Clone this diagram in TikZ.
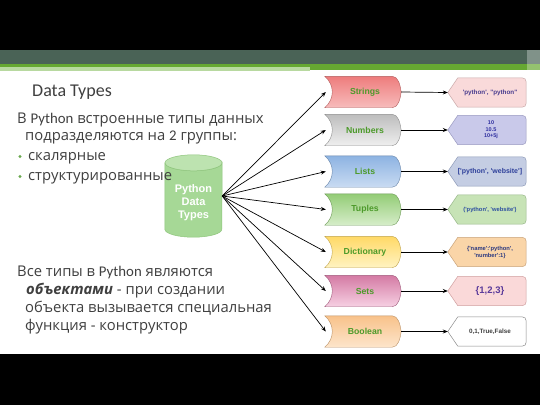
\documentclass[tikz,border=0pt]{standalone}
\usepackage{fontspec}
\setmainfont{Open Sans}
\newfontfamily\calfont{Carlito}
\newfontfamily\libfont{Liberation Sans}
\usetikzlibrary{arrows.meta,calc}
\definecolor{bardark}{HTML}{4A6356}
\definecolor{bargreen}{HTML}{66A832}
\definecolor{barpale}{HTML}{B8D9A0}
\definecolor{txt}{HTML}{404040}
\definecolor{bul}{HTML}{6AA84F}
\definecolor{catgreen}{HTML}{4C9A2A}
\definecolor{cylbody}{HTML}{A6D896}
\definecolor{cylend}{HTML}{BDE3B0}
\definecolor{cylborder}{HTML}{8EC57C}
% category colours
\definecolor{strT}{HTML}{EE7C7C}\definecolor{strB}{HTML}{F7BCBC}
\definecolor{numT}{HTML}{BDBDBD}\definecolor{numB}{HTML}{EFEFEF}
\definecolor{lisT}{HTML}{8DB3E2}\definecolor{lisB}{HTML}{C9DBF2}
\definecolor{tupT}{HTML}{93CC76}\definecolor{tupB}{HTML}{D6EDC9}
\definecolor{dicT}{HTML}{FFD966}\definecolor{dicB}{HTML}{FFF3C2}
\definecolor{setT}{HTML}{D47AA4}\definecolor{setB}{HTML}{F6D0E2}
\definecolor{booT}{HTML}{F8C28A}\definecolor{booB}{HTML}{FDE5CB}
% value colours
\definecolor{vstr}{HTML}{F9DADA}\definecolor{vstrD}{HTML}{C9A9A9}
\definecolor{vnum}{HTML}{C9C9EA}\definecolor{vnumD}{HTML}{9A9AC0}
\definecolor{vlis}{HTML}{C4CDE3}\definecolor{vlisD}{HTML}{8E9BB8}
\definecolor{vtup}{HTML}{C7E3B6}\definecolor{vtupD}{HTML}{98B88A}
\definecolor{vdic}{HTML}{FAD5A8}\definecolor{vdicD}{HTML}{C9A37A}
\definecolor{vset}{HTML}{FAD9D9}\definecolor{vsetD}{HTML}{D0A0A0}
\definecolor{vboo}{HTML}{FFFFFF}\definecolor{vbooD}{HTML}{8A8A8A}
\definecolor{tstr}{HTML}{4A3D8F}
\definecolor{tnum}{HTML}{2F2FA0}
\definecolor{tlis}{HTML}{2D3F9A}
\definecolor{ttup}{HTML}{2D4FA0}
\definecolor{tdic}{HTML}{2D3A80}
\definecolor{tset}{HTML}{5B3B9B}
\definecolor{tboo}{HTML}{404040}
\newcommand\catpath[3]{%
  \path[top color=#2,bottom color=#3,draw=#2!75!black,line width=0.4pt]
    (#1.north west) -- ($(#1.north east)+(-9,0)$)
    .. controls ($(#1.north east)+(-3,0)$) and ($(#1.east)+(-1,-7)$) .. (#1.east)
    .. controls ($(#1.east)+(-1,7)$) and ($(#1.south east)+(-3,0)$) .. ($(#1.south east)+(-9,0)$)
    -- (#1.south west)
    .. controls ($(#1.west)+(10,7)$) and ($(#1.west)+(10,-7)$) .. (#1.north west) -- cycle;}
\newcommand\valpath[3]{%
  \path[fill=#2,draw=#3,line width=0.5pt]
    (#1.west) -- ($(#1.north west)+(10,0)$) -- ($(#1.north east)+(-9,0)$)
    .. controls (#1.north east) .. ($(#1.north east)+(0,9)$)
    -- ($(#1.south east)+(0,-9)$)
    .. controls (#1.south east) .. ($(#1.south east)+(-9,0)$)
    -- ($(#1.south west)+(10,0)$) -- cycle;}
\tikzset{
  catbox/.style={minimum width=76pt,minimum height=31pt,inner sep=0pt,
    text=catgreen,font=\libfont\bfseries\fontsize{8.7}{10}\selectfont},
  valbox/.style={minimum width=78pt,minimum height=29pt,inner sep=0pt,align=center,
    font=\libfont\bfseries\fontsize{6.3}{7.2}\selectfont},
  body/.style={anchor=base west,inner sep=0pt,text=txt,font=\fontsize{14.8}{17}\selectfont},
  bulletdot/.style={circle,fill=bul,inner sep=0pt,minimum size=3.3pt},
  conn/.style={-{Stealth[length=5pt,width=4pt]},line width=0.7pt,black},
}
\begin{document}
\begin{tikzpicture}[x=1pt,y=-1pt]
\useasboundingbox (0,0) rectangle (540,405);
\fill[white] (0,0) rectangle (540,405);
\fill[black] (0,0) rectangle (540,50);
\fill[black] (0,354) rectangle (540,405);
\fill[bardark] (0,50) rectangle (540,63.5);
\fill[bargreen] (0,63.5) rectangle (540,70);
\fill[barpale] (0,67) rectangle (310,70.5);
\fill[white,opacity=0.3] (527,50) rectangle (540,70);

% cylinder
\node[minimum width=57pt,minimum height=82pt,inner sep=0pt] (cyl) at (193.5,196) {};
\path[fill=cylbody,draw=cylborder,line width=0.5pt]
  (cyl.north west) ++(0,8) -- ($(cyl.south west)+(0,-8)$)
  arc[start angle=180,end angle=0,x radius=28.5,y radius=8]
  -- ($(cyl.north east)+(0,8)$)
  arc[start angle=0,end angle=180,x radius=28.5,y radius=8] -- cycle;
\path[fill=cylend,draw=cylborder,line width=0.5pt] ($(cyl.north)+(0,8)$) ellipse[x radius=28.5,y radius=8];
\node[text=white,align=center,font=\libfont\bfseries\fontsize{11}{13}\selectfont] (cyltext) at (193.5,203) {Python\\Data\\Types};

% left texts
\node[body,font=\calfont\fontsize{18}{22}\selectfont] (title) at (32,96.7) {Data Types};
\node[body] (l1) at (17,123.3) {В {\calfont Python} встроенные типы данных};
\node[body] (l2) at (25,140.5) {подразделяются на {\calfont 2} группы:};
\node[bulletdot] (bu1) at (20,156.5) {};
\node[body] (b1) at (28,160) {скалярные};
\node[bulletdot] (bu2) at (20,176.5) {};
\node[body] (b2) at (28,180) {структурированные};
\node[body] (m1) at (17,276.7) {Все типы в {\calfont Python} являются};
\node[body] (m2) at (26,294) {\textbf{\textit{объектами}} - при создании};
\node[body] (m3) at (25,312.2) {объекта вызывается специальная};
\node[body] (m4) at (25,330.5) {функция - конструктор};

% categories
\foreach \n/\y/\t/\T/\B in {cStr/92/Strings/strT/strB, cNum/130/Numbers/numT/numB,
  cLis/171.5/Lists/lisT/lisB, cTup/209.5/Tuples/tupT/tupB, cDic/252/Dictionary/dicT/dicB,
  cSet/291/Sets/setT/setB, cBoo/331.5/Boolean/booT/booB}{
  \node[catbox] (\n) at (363,\y) {};
  \catpath{\n}{\T}{\B}
  \node[catbox] (\n-t) at ($(\n)+(2,0)$) {\t};
}

% values
\node[valbox] (vStr) at (487,92.5) {};
\valpath{vStr}{vstr}{vstrD}
\node[valbox,text=tstr] (vStr-t) at ($(vStr)+(3,0)$) {'python', "python"};
\node[valbox] (vNum) at (487,130) {};
\valpath{vNum}{vnum}{vnumD}
\node[valbox,text=tnum,font=\libfont\bfseries\fontsize{5.5}{6.5}\selectfont] (vNum-t) at ($(vNum)+(4,0)$) {10\\10.5\\10+5j};
\node[valbox] (vLis) at (487,171.5) {};
\valpath{vLis}{vlis}{vlisD}
\node[valbox,text=tlis,font=\libfont\bfseries\fontsize{7}{8}\selectfont] (vLis-t) at ($(vLis)+(3,0)$) {['python', 'website']};
\node[valbox] (vTup) at (487,209.5) {};
\valpath{vTup}{vtup}{vtupD}
\node[valbox,text=ttup,font=\libfont\bfseries\fontsize{5.8}{7}\selectfont] (vTup-t) at ($(vTup)+(3,0)$) {('python', 'website')};
\node[valbox] (vDic) at (487,252) {};
\valpath{vDic}{vdic}{vdicD}
\node[valbox,text=tdic,font=\libfont\bfseries\fontsize{5.8}{7}\selectfont] (vDic-t) at ($(vDic)+(3,0)$) {\{'name':'python',\\'number':1\}};
\node[valbox] (vSet) at (487,291) {};
\valpath{vSet}{vset}{vsetD}
\node[valbox,text=tset,font=\libfont\bfseries\fontsize{9.5}{11}\selectfont] (vSet-t) at ($(vSet)+(3,0)$) {\{1,2,3\}};
\node[valbox] (vBoo) at (487,331.5) {};
\valpath{vBoo}{vboo}{vbooD}
\node[valbox,text=tboo,font=\libfont\bfseries\fontsize{6.3}{7.2}\selectfont] (vBoo-t) at ($(vBoo)+(3,0)$) {0,1,True,False};

% connectors
\foreach \n/\v in {cStr/vStr,cNum/vNum,cLis/vLis,cTup/vTup,cDic/vDic,cSet/vSet,cBoo/vBoo}{
  \draw[conn] (\n.east) -- (\v.west);
  \draw[conn] (cyl.east) -- ($(\n.west)+(1,0)$);
}
\end{tikzpicture}
\end{document}
